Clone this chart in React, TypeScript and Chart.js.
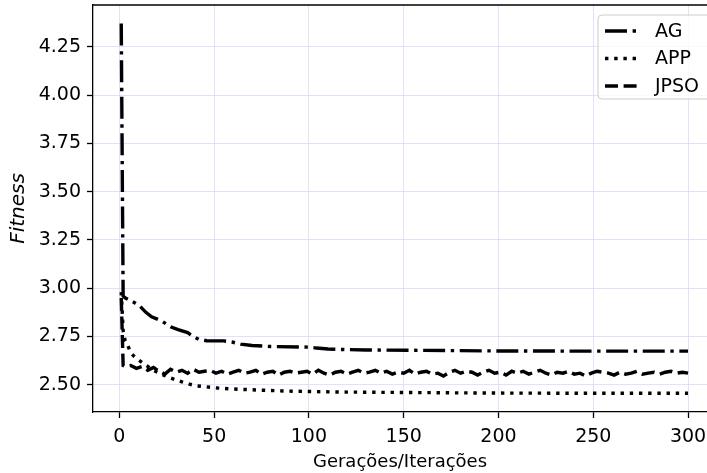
import React, { useEffect, useRef } from 'react';
import { Chart, registerables } from 'chart.js';

Chart.register(...registerables);

// ---- Data ----
const xTicks = [0, 50, 100, 150, 200, 250, 300];
const yTicks = [2.5, 2.75, 3.0, 3.25, 3.5, 3.75, 4.0, 4.25];

const agIter = [1, 2, 3, 5, 8, 11, 14, 17, 20, 23, 27, 31, 36, 39, 42, 46, 55, 60, 64, 70, 80, 100, 104, 110, 120, 130, 160, 200, 250, 300];
const agFitness = [4.37, 2.96, 2.95, 2.94, 2.925, 2.905, 2.875, 2.852, 2.84, 2.826, 2.8, 2.785, 2.77, 2.75, 2.735, 2.728, 2.727, 2.72, 2.71, 2.703, 2.698, 2.695, 2.69, 2.685, 2.682, 2.68, 2.678, 2.675, 2.674, 2.674];

const appIter = [1, 2, 3, 4, 5, 6, 8, 10, 12, 15, 18, 21, 24, 27, 30, 33, 37, 41, 46, 52, 60, 70, 80, 90, 100, 120, 150, 180, 200, 250, 300];
const appFitness = [2.98, 2.78, 2.73, 2.715, 2.69, 2.665, 2.645, 2.63, 2.615, 2.595, 2.575, 2.56, 2.547, 2.535, 2.525, 2.515, 2.503, 2.494, 2.489, 2.483, 2.478, 2.474, 2.47, 2.467, 2.465, 2.462, 2.46, 2.458, 2.457, 2.456, 2.456];

const jpsoIter = [1, 2, 3, 6, 9, 12, 15, 18, 21, 24, 27, 30, 33, 36, 39, 42, 45, 48, 51, 54, 57, 60, 63, 66, 69, 72, 75, 78, 81, 84, 87, 90, 93, 96, 99, 102, 105, 108, 111, 114, 117, 120, 123, 126, 129, 132, 135, 138, 141, 144, 147, 150, 153, 156, 159, 162, 165, 168, 171, 174, 177, 180, 183, 186, 189, 192, 195, 198, 201, 204, 207, 210, 213, 216, 219, 222, 225, 228, 231, 234, 237, 240, 243, 246, 249, 252, 255, 258, 261, 264, 267, 270, 273, 276, 279, 282, 285, 288, 291, 294, 297, 300];
const jpsoFitness = [2.95, 2.6, 2.595, 2.6, 2.585, 2.595, 2.575, 2.59, 2.57, 2.555, 2.58, 2.565, 2.575, 2.56, 2.58, 2.565, 2.57, 2.575, 2.56, 2.57, 2.555, 2.565, 2.575, 2.56, 2.565, 2.575, 2.555, 2.565, 2.57, 2.55, 2.565, 2.57, 2.56, 2.565, 2.57, 2.555, 2.575, 2.56, 2.55, 2.565, 2.57, 2.555, 2.565, 2.575, 2.56, 2.565, 2.575, 2.56, 2.57, 2.555, 2.565, 2.56, 2.575, 2.555, 2.565, 2.57, 2.555, 2.56, 2.545, 2.565, 2.575, 2.56, 2.57, 2.565, 2.55, 2.565, 2.575, 2.56, 2.565, 2.55, 2.57, 2.56, 2.57, 2.555, 2.565, 2.575, 2.56, 2.55, 2.565, 2.56, 2.57, 2.555, 2.56, 2.545, 2.56, 2.57, 2.565, 2.56, 2.55, 2.565, 2.555, 2.56, 2.57, 2.555, 2.56, 2.565, 2.555, 2.565, 2.57, 2.56, 2.565, 2.56];

const seriesLabels = ['AG', 'APP', 'JPSO'];

const FONT = "'DejaVu Sans', sans-serif";
const LW = 3.4;
const dashAG = [22, 5.6, 3.4, 5.6];
const dashAPP = [3.4, 5.8];
const dashJPSO = [13, 5.6];

const toPoints = (xs: number[], ys: number[]) => xs.map((x, i) => ({ x, y: ys[i] }));

const spinePlugin = {
  id: 'spineTop',
  afterDatasetsDraw(chart: any) {
    const { ctx, chartArea } = chart;
    ctx.save();
    ctx.strokeStyle = '#000';
    ctx.lineWidth = 1.3;
    ctx.beginPath();
    ctx.moveTo(chartArea.left, chartArea.top);
    ctx.lineTo(chartArea.right, chartArea.top);
    ctx.stroke();
    ctx.restore();
  },
};

const legendPlugin = {
  id: 'mplLegend',
  afterDraw(chart: any) {
    const { ctx } = chart;
    const bx = 598, by = 15, bw = 116, bh = 84, r = 4;
    ctx.save();
    ctx.beginPath();
    ctx.moveTo(bx + r, by);
    ctx.lineTo(bx + bw - r, by);
    ctx.arcTo(bx + bw, by, bx + bw, by + r, r);
    ctx.lineTo(bx + bw, by + bh - r);
    ctx.arcTo(bx + bw, by + bh, bx + bw - r, by + bh, r);
    ctx.lineTo(bx + r, by + bh);
    ctx.arcTo(bx, by + bh, bx, by + bh - r, r);
    ctx.lineTo(bx, by + r);
    ctx.arcTo(bx, by, bx + r, by, r);
    ctx.closePath();
    ctx.fillStyle = 'rgba(255,255,255,0.8)';
    ctx.fill();
    ctx.strokeStyle = '#cccccc';
    ctx.lineWidth = 1;
    ctx.stroke();
    const rows = [31, 58.5, 86];
    chart.data.datasets.forEach((ds: any, i: number) => {
      const y = rows[i];
      ctx.beginPath();
      ctx.setLineDash(ds.borderDash || []);
      ctx.lineDashOffset = 0;
      ctx.strokeStyle = '#000';
      ctx.lineWidth = LW;
      ctx.lineCap = 'butt';
      ctx.moveTo(605, y);
      ctx.lineTo(641, y);
      ctx.stroke();
      ctx.setLineDash([]);
      ctx.fillStyle = '#000';
      ctx.font = `19px ${FONT}`;
      ctx.textBaseline = 'middle';
      ctx.textAlign = 'left';
      ctx.fillText(ds.label, 655, y + 1);
    });
    ctx.restore();
  },
};

export default function App() {
  const ref = useRef<HTMLCanvasElement | null>(null);
  useEffect(() => {
    if (!ref.current) return;
    const gridCfg = {
      color: 'rgba(215,215,245,0.75)',
      lineWidth: 1,
      borderDash: [4, 3],
      drawTicks: true,
      tickLength: 6,
      tickColor: '#000',
      tickWidth: 1.3,
      tickBorderDash: [],
    };
    const chart = new Chart(ref.current, {
      type: 'line',
      data: {
        datasets: [
          { label: seriesLabels[0], data: toPoints(agIter, agFitness), borderColor: '#000', borderWidth: LW, borderDash: dashAG, pointRadius: 0, fill: false, tension: 0 },
          { label: seriesLabels[1], data: toPoints(appIter, appFitness), borderColor: '#000', borderWidth: LW, borderDash: dashAPP, pointRadius: 0, fill: false, tension: 0 },
          { label: seriesLabels[2], data: toPoints(jpsoIter, jpsoFitness), borderColor: '#000', borderWidth: LW, borderDash: dashJPSO, pointRadius: 0, fill: false, tension: 0 },
        ],
      },
      options: {
        animation: false,
        responsive: false,
        devicePixelRatio: 1,
        layout: { padding: { top: 5, right: 0, left: 0, bottom: 0 } },
        plugins: { legend: { display: false }, tooltip: { enabled: false } },
        scales: {
          x: {
            type: 'linear',
            min: -13.9,
            max: 310,
            grid: gridCfg,
            border: { display: true, color: '#000', width: 1.3 },
            ticks: { autoSkip: false, maxRotation: 0, color: '#000', padding: 8, font: { family: FONT, size: 19 } },
            title: { display: true, text: 'Gerações/Iterações', color: '#000', font: { family: FONT, size: 18 }, padding: 0 },
            afterBuildTicks: (s: any) => { s.ticks = xTicks.map((v) => ({ value: v })); },
            afterFit: (s: any) => { s.height = 61; s.paddingLeft = 0; s.paddingRight = 0; },
          },
          y: {
            type: 'linear',
            min: 2.359,
            max: 4.466,
            grid: gridCfg,
            border: { display: true, color: '#000', width: 1.3 },
            ticks: { autoSkip: false, color: '#000', padding: 6, font: { family: FONT, size: 19 }, callback: (v: any) => Number(v).toFixed(2) },
            title: { display: true, text: 'Fitness', color: '#000', font: { family: FONT, size: 20, style: 'italic' }, padding: 7 },
            afterBuildTicks: (s: any) => { s.ticks = yTicks.map((v) => ({ value: v })); },
            afterFit: (s: any) => { s.width = 93; s.paddingTop = 0; s.paddingBottom = 0; },
          },
        },
      },
      plugins: [spinePlugin, legendPlugin],
    } as any);
    return () => chart.destroy();
  }, []);
  return (
    <div style={{ position: 'fixed', left: 0, top: 0, width: 707, height: 473, background: '#fff' }}>
      <canvas ref={ref} width={707} height={473} style={{ display: 'block' }} />
    </div>
  );
}
